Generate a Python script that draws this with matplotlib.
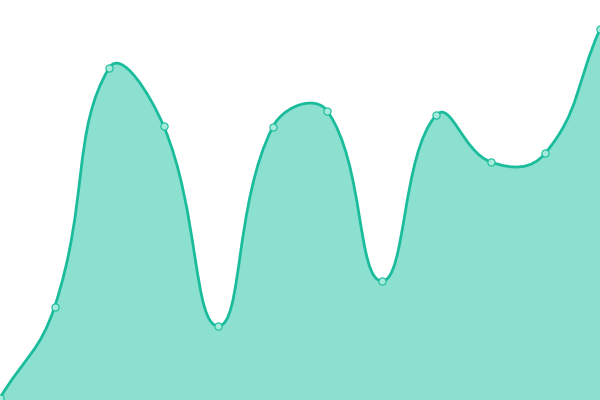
import numpy as np
import matplotlib
matplotlib.use("Agg")
import matplotlib.pyplot as plt
from matplotlib.path import Path
from matplotlib.patches import PathPatch

categories = list(range(12))
values = [2, 93, 332, 274, 74, 273, 289, 119, 285, 238, 247, 371]

LINE = "#1abc9c"
FILL = "#8be0cf"

fig = plt.figure(figsize=(6, 4), dpi=100)
ax = fig.add_axes([0, 0, 1, 1])
ax.set_xlim(0, 600)
ax.set_ylim(0, 400)
ax.axis("off")

xs = np.array(categories, dtype=float) * 600 / (len(categories) - 1)
ys = np.array(values, dtype=float)
pts = np.column_stack([xs, ys])

smooth = 0.45
n = len(pts)
cp_prev = []
cp_next = []
for i in range(n):
    p = pts[i]
    prev = pts[i - 1] if i > 0 else p
    nxt = pts[i + 1] if i < n - 1 else p
    v = (nxt - prev) * smooth
    d0 = np.hypot(*(p - prev))
    d1 = np.hypot(*(p - nxt))
    tot = d0 + d1
    r = d0 / tot if tot else 0.5
    cp_prev.append(p - v * r)
    cp_next.append(p + v * (1 - r))

verts = [tuple(pts[0])]
codes = [Path.MOVETO]
for i in range(n - 1):
    verts += [tuple(cp_next[i]), tuple(cp_prev[i + 1]), tuple(pts[i + 1])]
    codes += [Path.CURVE4] * 3

line_path = Path(verts, codes)
fill_verts = verts + [(xs[-1], 0), (xs[0], 0), verts[0]]
fill_codes = codes + [Path.LINETO, Path.LINETO, Path.CLOSEPOLY]
ax.add_patch(PathPatch(Path(fill_verts, fill_codes), facecolor=FILL, edgecolor="none", zorder=1))
ax.add_patch(PathPatch(line_path, facecolor="none", edgecolor=LINE, lw=2.0, zorder=2))
ax.plot(xs, ys, "o", ms=5.2, mfc="#a6eadc", mec=LINE, mew=0.8, zorder=3)

fig.savefig("out.png", dpi=100)
